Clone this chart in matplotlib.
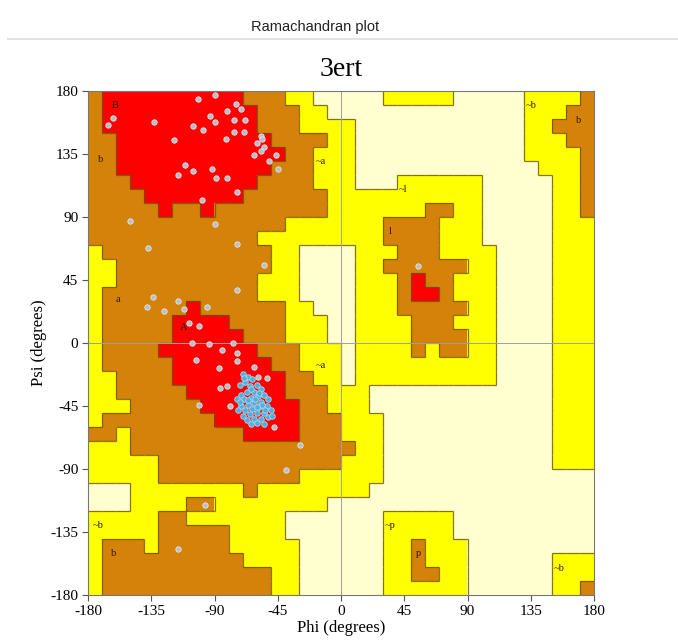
import matplotlib
matplotlib.use('Agg')
import matplotlib.pyplot as plt
import numpy as np
from matplotlib.colors import ListedColormap
from matplotlib.collections import LineCollection
from matplotlib.lines import Line2D

# Region map, 10-degree cells; row 0 = psi 170..180, col 0 = phi -180..-170
# W = disallowed, Y = generously allowed, B = additionally allowed, R = most favoured
region_rows = [
    "B1 R10 B3 Y2 W5 Y5 W5 Y4 B1",
    "B1 R11 B3 Y2 W14 Y3 B2",
    "B1 R11 B3 Y4 W12 Y2 B3",
    "B2 R11 B4 Y2 W12 Y3 B2",
    "B2 R12 B2 Y3 W12 Y4 B1",
    "B2 R11 B3 Y3 W13 Y3 B1",
    "B3 R9 B4 Y3 W3 Y6 W5 Y2 B1",
    "B4 R7 B6 Y11 W5 Y2 B1",
    "B5 R1 B2 R1 B8 Y7 B2 Y2 W5 Y2 B1",
    "B14 Y7 B4 Y3 W5 Y3",
    "B12 Y9 B4 Y3 W5 Y3",
    "Y1 B12 Y2 W4 Y3 B3 Y4 W4 Y3",
    "Y2 B11 Y2 W4 Y2 B6 Y2 W4 Y3",
    "Y2 B10 Y3 W4 Y3 B1 R1 B2 Y3 W4 Y3",
    "Y1 B11 Y3 W4 Y3 B1 R2 B1 Y3 W4 Y3",
    "Y1 B6 R1 B6 Y2 W3 Y3 B5 Y2 W4 Y3",
    "Y1 B5 R4 B4 Y3 W2 Y4 B3 Y3 W4 Y3",
    "Y1 B5 R5 B3 Y3 W2 Y4 B4 Y2 W4 Y3",
    "Y1 B4 R7 B3 Y3 W1 Y4 B1 Y1 B2 Y2 W4 Y3",
    "Y1 B5 R7 B2 Y3 W1 Y10 W4 Y3",
    "Y2 B4 R8 B2 Y2 W1 Y10 W4 Y3",
    "Y2 B5 R7 B3 Y3 W13 Y3",
    "Y3 B5 R7 B2 Y3 W13 Y3",
    "Y1 B8 R6 B3 Y3 W12 Y3",
    "B2 Y1 B8 R4 B3 Y3 W12 Y3",
    "Y3 B16 Y2 W12 Y3",
    "Y5 B13 Y3 W12 Y3",
    "Y5 B10 Y6 W15",
    "W3 Y8 B1 Y8 W16",
    "W3 Y4 B2 Y8 W19",
    "Y5 B2 Y7 W7 Y5 W10",
    "Y5 B5 Y4 W7 Y5 W10",
    "Y1 B3 Y1 B5 Y5 W6 Y2 B1 Y3 W9",
    "Y1 B10 Y4 W6 Y2 B1 Y3 W6 Y3",
    "Y1 B12 Y2 W6 Y2 B2 Y2 W6 Y3",
    "Y1 B12 Y2 W6 Y6 W6 Y2 B1",
]
region_codes = "WYBR"
region_colors = ['#FFFFD0', '#FFFF00', '#D4820A', '#FF0000']

# residues (phi, psi)
res_phi = [-90, -102, -75, -71, -166, -162, -133, -93, -81, -105, -98, -90, -76, -68,
           -119, -82, -76, -69, -111, -105, -116, -92, -89, -81, -74, -99,
           -60, -57, -62, -57, -56, -55, -46, -51, -45,
           -150, -90, -137, -74, -55, -74,
           -138, -134, -126, -116, -112, -95, -101, -108,
           -106, -94, -85, -103, -87, -77, -74, -74, -62, -59, -53, -86, -81, -101, -79, -48,
           -29, -39, -116, -97, 55]
res_psi = [177, 174, 171, 167, 156, 161, 158, 162, 166, 155, 152, 158, 159, 159,
           145, 146, 151, 151, 127, 123, 120, 124, 118, 118, 108, 102,
           143, 137, 134, 148, 146, 140, 134, 130, 124,
           87, 85, 68, 71, 56, 38,
           26, 33, 23, 30, 24, 26, 12, 14,
           0, -1, -5, -12, -18, 0, -7, -13, -17, -24, -25, -32, -31, -44, -45, -60,
           -73, -91, -147, -116, 55]

helix_phi = [-70, -66, -63, -68, -72, -65, -60, -57, -62, -67, -71, -74, -69, -64, -59, -55,
             -52, -57, -62, -66, -71, -73, -68, -63, -58, -53, -50, -55, -60, -65, -70, -67,
             -62, -57, -52, -49, -60, -55, -64, -72, -61, -56, -66, -64, -69, -60, -58, -54]
helix_psi = [-22, -24, -26, -28, -30, -31, -30, -33, -35, -35, -37, -40, -40, -39, -38, -37,
             -40, -42, -43, -44, -45, -48, -48, -47, -46, -45, -48, -50, -50, -51, -52, -55,
             -54, -54, -53, -52, -57, -58, -58, -42, -40, -44, -41, -33, -25, -46, -36, -48]

region_labels = ["B", "b", "a", "A", "l", "p", "b", "b",
                 "~a", "~l", "~b", "~b", "~a", "~p", "~b"]
label_phi = [-161, -171, -159, -112, 35, 55, 169, -162,
             -14, 44, 135, -173, -14, 35, 155]
label_psi = [170, 131, 31, 11, 80, -150, 159, -150,
             130, 110, 170, -130, -16, -130, -161]

phi_ticks = [-180, -135, -90, -45, 0, 45, 90, 135, 180]
psi_ticks = [-180, -135, -90, -45, 0, 45, 90, 135, 180]


def decode(rle):
    s = ''.join(tok[0] * int(tok[1:]) for tok in rle.split())
    assert len(s) == 36, (rle, len(s))
    return s


grid = np.array([[region_codes.index(ch) for ch in decode(r)] for r in region_rows])
nrow, ncol = grid.shape
step = 360 / ncol

fig = plt.figure(figsize=(6.78, 6.42), dpi=100)
ax = fig.add_axes([88 / 678, 1 - 595 / 642, 506 / 678, 504 / 642])
ax.imshow(grid, cmap=ListedColormap(region_colors), vmin=-0.5, vmax=3.5,
          extent=[-180, 180, -180, 180], origin='upper',
          interpolation='nearest', aspect='auto', zorder=0)

# region boundaries derived from the grid
segs = []
for r in range(nrow):
    for c in range(ncol):
        if c + 1 < ncol and grid[r, c] != grid[r, c + 1]:
            x = -180 + step * (c + 1)
            segs.append([(x, 180 - step * (r + 1)), (x, 180 - step * r)])
        if r + 1 < nrow and grid[r, c] != grid[r + 1, c]:
            y = 180 - step * (r + 1)
            segs.append([(-180 + step * c, y), (-180 + step * (c + 1), y)])
ax.add_collection(LineCollection(segs, colors='#6a5200', linewidths=0.9,
                                 alpha=0.8, zorder=1))

ax.axvline(0, color='#a0a0a0', lw=0.7, zorder=2)
ax.axhline(0, color='#a0a0a0', lw=0.7, zorder=2)

for t, x, y in zip(region_labels, label_phi, label_psi):
    ax.text(x, y, t, fontsize=7.5, color='#2e1800', family='Liberation Serif',
            ha='center', va='center', zorder=3)

ax.scatter(res_phi, res_psi, s=15, facecolor='#b4c0cc', edgecolor='#e6e6e6',
           linewidths=0.6, zorder=4)
ax.scatter(helix_phi, helix_psi, s=16, facecolor='#4fb0e0', edgecolor='#a6daf2',
           linewidths=0.6, zorder=5)

ax.set_xlim(-180, 180)
ax.set_ylim(-180, 180)
ax.set_xticks(phi_ticks)
ax.set_yticks(psi_ticks)
ax.set_xticklabels([str(v) for v in phi_ticks])
ax.set_yticklabels([str(v) for v in psi_ticks])
ax.tick_params(direction='out', length=4, width=0.8, color='#555555',
               labelsize=11, pad=3)
for lab in ax.get_xticklabels() + ax.get_yticklabels():
    lab.set_family('Liberation Serif')
for sp in ax.spines.values():
    sp.set_color('#777777')
    sp.set_linewidth(0.8)

ax.set_xlabel('Phi (degrees)', family='Liberation Serif', fontsize=12, labelpad=2)
ax.set_ylabel('Psi (degrees)', family='Liberation Serif', fontsize=12, labelpad=2)

fig.text(341 / 678, 1 - 70 / 642, '3ert', family='Liberation Serif', fontsize=20,
         ha='center', va='center')
fig.text(315 / 678, 1 - 27 / 642, 'Ramachandran plot', family='Liberation Sans',
         fontsize=10.5, ha='center', va='center', color='#222222')
fig.add_artist(Line2D([8 / 678, 1], [1 - 39 / 642, 1 - 39 / 642], color='#e4e4e4', lw=1.5))

fig.savefig('out.png', dpi=100, facecolor='white')
